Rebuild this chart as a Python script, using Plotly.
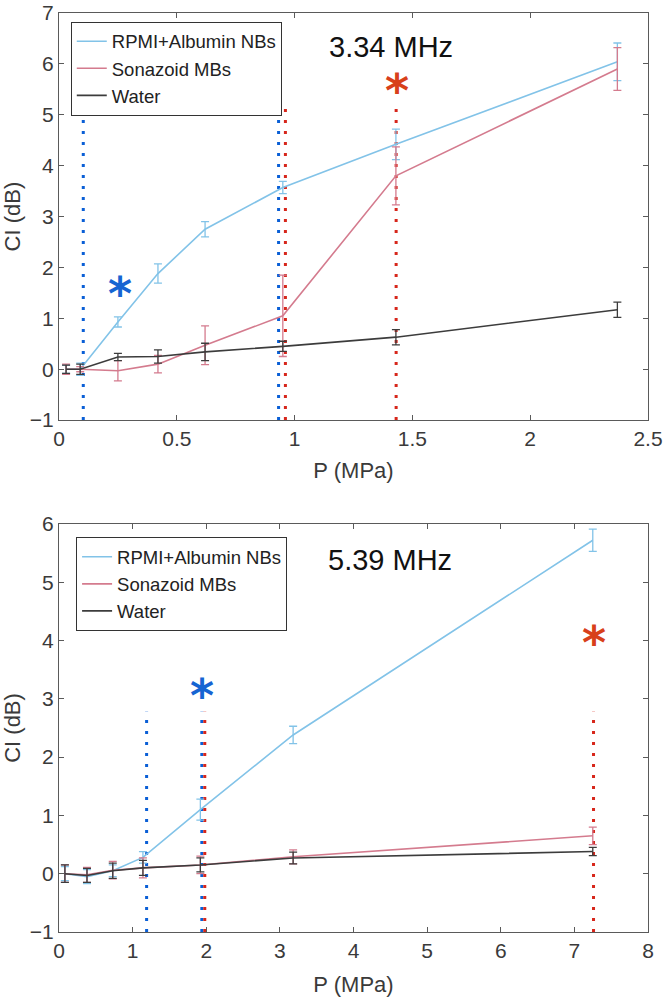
import plotly.graph_objects as go

# ---------------- data: 3.34 MHz (top) ----------------
P_334 = [0.03, 0.09, 0.25, 0.42, 0.62, 0.95, 1.43, 2.37]
rpmi_334 = [0.0, 0.0, 0.93, 1.88, 2.75, 3.57, 4.42, 6.04]
rpmi_334_err = [0.08, 0.12, 0.10, 0.19, 0.15, 0.12, 0.30, 0.37]
sona_334 = [0.0, 0.0, -0.03, 0.10, 0.47, 1.05, 3.80, 5.90]
sona_334_err = [0.10, 0.05, 0.20, 0.17, 0.38, 0.80, 0.57, 0.42]
water_334 = [0.0, 0.0, 0.24, 0.25, 0.34, 0.45, 0.63, 1.17]
water_334_err = [0.08, 0.10, 0.07, 0.13, 0.17, 0.10, 0.15, 0.15]
blue_thr_334 = [0.103, 0.932]
red_thr_334 = [0.961, 1.431]
thr_top_334 = 5.15
star_blue_334 = (0.259, 1.71)
star_red_334 = (1.436, 5.71)

# ---------------- data: 5.39 MHz (bottom) ----------------
P_539 = [0.08, 0.38, 0.73, 1.14, 1.92, 3.18, 7.25]
rpmi_539 = [0.0, -0.05, 0.05, 0.28, 1.10, 2.38, 5.72]
rpmi_539_err = [0.12, 0.12, 0.10, 0.10, 0.18, 0.15, 0.19]
sona_539 = [0.0, -0.02, 0.06, 0.10, 0.15, 0.29, 0.65]
sona_539_err = [0.15, 0.13, 0.15, 0.17, 0.15, 0.12, 0.15]
water_539 = [0.0, -0.03, 0.05, 0.10, 0.15, 0.27, 0.38]
water_539_err = [0.15, 0.12, 0.13, 0.13, 0.12, 0.10, 0.07]
blue_thr_539 = [1.19, 1.94]
red_thr_539 = [1.98, 7.26]
thr_top_539 = 2.78
star_blue_539 = (1.94, 3.26)
star_red_539 = (7.26, 4.16)

series_names = ["RPMI+Albumin NBs", "Sonazoid MBs", "Water"]
line_colors = ["#82c3e8", "#d47b8e", "#3c3c3c"]
dot_blue = "#0a5fd6"
dot_red = "#d7261b"
star_blue_col = "#1664d2"
star_red_col = "#d8401a"
FONT = "Liberation Sans, Arial, sans-serif"

fig = go.Figure()

def add_panel(P, ys, errs, xa, ya, legend, blue_thr, red_thr, thr_top):
    # dotted threshold lines
    for xv in blue_thr:
        fig.add_trace(go.Scatter(x=[xv, xv], y=[-1, thr_top], mode="lines",
                                 line=dict(color=dot_blue, width=3, dash="3px,8px"),
                                 showlegend=False, hoverinfo="skip",
                                 xaxis=xa, yaxis=ya))
    for xv in red_thr:
        fig.add_trace(go.Scatter(x=[xv, xv], y=[-1, thr_top], mode="lines",
                                 line=dict(color=dot_red, width=3, dash="3px,8px"),
                                 showlegend=False, hoverinfo="skip",
                                 xaxis=xa, yaxis=ya))
    for name, y, e, c in zip(series_names, ys, errs, line_colors):
        fig.add_trace(go.Scatter(
            x=P, y=y, name=name, mode="lines",
            line=dict(color=c, width=1.6),
            error_y=dict(type="data", array=e, visible=True, color=c,
                         thickness=1.3, width=4),
            xaxis=xa, yaxis=ya, legend=legend))

add_panel(P_334, [rpmi_334, sona_334, water_334],
          [rpmi_334_err, sona_334_err, water_334_err],
          "x", "y", "legend", blue_thr_334, red_thr_334, thr_top_334)
add_panel(P_539, [rpmi_539, sona_539, water_539],
          [rpmi_539_err, sona_539_err, water_539_err],
          "x2", "y2", "legend2", blue_thr_539, red_thr_539, thr_top_539)

# asterisks and frequency labels
annots = []
for (sx, sy), col, xr, yr in [
    (star_blue_334, star_blue_col, "x", "y"),
    (star_red_334, star_red_col, "x", "y"),
    (star_blue_539, star_blue_col, "x2", "y2"),
    (star_red_539, star_red_col, "x2", "y2"),
]:
    annots.append(dict(x=sx, y=sy, xref=xr, yref=yr, text="<b>*</b>", showarrow=False,
                       font=dict(family="DejaVu Sans", size=46, color=col),
                       yshift=-12))
annots.append(dict(x=1.41, y=6.34, xref="x", yref="y", text="3.34 MHz",
                   showarrow=False, font=dict(family=FONT, size=29, color="#111")))
annots.append(dict(x=4.5, y=5.39, xref="x2", yref="y2", text="5.39 MHz",
                   showarrow=False, font=dict(family=FONT, size=29, color="#111")))

axis_common = dict(showline=True, linecolor="#5a5a5a", linewidth=1.2,
                   mirror="allticks", ticks="inside", ticklen=5,
                   tickcolor="#5a5a5a", tickwidth=1, showgrid=False,
                   zeroline=False, tickfont=dict(family=FONT, size=21, color="#3a3a3a"),
                   automargin=False)
title_font = dict(family=FONT, size=22, color="#3a3a3a")

legend_common = dict(bgcolor="white", bordercolor="#333", borderwidth=1,
                     font=dict(family=FONT, size=18.5, color="#222"),
                     xanchor="left", yanchor="top", tracegroupgap=0,
                     itemclick=False)

fig.update_layout(
    width=666, height=1000,
    margin=dict(l=59, r=18, t=13, b=68),
    paper_bgcolor="white", plot_bgcolor="white",
    xaxis=dict(axis_common, domain=[0, 1], anchor="y", range=[0, 2.5], dtick=0.5,
               title=dict(text="P (MPa)", font=title_font, standoff=13)),
    yaxis=dict(axis_common, domain=[0.557, 1], anchor="x", range=[-1, 7], dtick=1,
               title=dict(text="CI (dB)", font=title_font, standoff=6)),
    xaxis2=dict(axis_common, domain=[0, 1], anchor="y2", range=[0, 8], dtick=1,
                title=dict(text="P (MPa)", font=title_font, standoff=15)),
    yaxis2=dict(axis_common, domain=[0, 0.444], anchor="x2", range=[-1, 6], dtick=1,
                title=dict(text="CI (dB)", font=title_font, standoff=6)),
    legend=dict(legend_common, x=0.02, y=0.9905),
    legend2=dict(legend_common, x=0.029, y=0.4295),
    annotations=annots,
)

fig.write_html("out.html", config={"displayModeBar": False},
               post_script="document.body.style.margin='0';document.body.style.overflow='hidden';")
